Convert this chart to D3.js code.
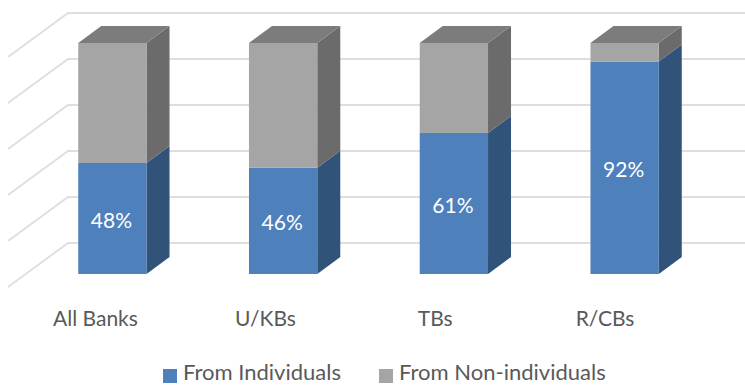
<!DOCTYPE html>
<html>
<head>
<meta charset="utf-8">
<script src="https://cdnjs.cloudflare.com/ajax/libs/d3/7.8.5/d3.min.js"></script>
<style>
html,body{margin:0;padding:0;background:#fff}
svg{display:block}
text{font-family:Lato,"Open Sans",sans-serif}
</style>
</head>
<body>
<svg id="chart" width="745" height="385"></svg>
<script>
const categories = ["All Banks", "U/KBs", "TBs", "R/CBs"];
const fromIndividuals = [48, 46, 61, 92];
const seriesNames = ["From Individuals", "From Non-individuals"];
const gridTicks = [0, 20, 40, 60, 80, 100];

const blue = {front: "#4e80bc", side: "#325379"};
const gray = {front: "#a5a5a5", side: "#6b6b6b", top: "#7c7c7c"};
const textColor = "#595959";

const svg = d3.select("#chart");

// Oblique projection: bars are extruded up and to the right.
const depthX = 23, depthY = -17;

const x = d3.scaleBand().domain(categories).range([27, 710]).paddingInner(0.6).paddingOuter(0.3);
const y = d3.scaleLinear().domain([0, 100]).range([274, 43]);
const wallY = d3.scaleLinear().domain([0, 100]).range([243, 13]);

// Category labels sit on the front floor edge, left of the bar centres.
const labelX = d3.scalePoint().domain(categories).range([95.5, 605]);

// Gridlines run along the back wall and fold down the side wall.
const grid = svg.append("g").attr("fill", "none").attr("stroke", "#dedede").attr("stroke-width", 1.8);
gridTicks.forEach(t => {
  grid.append("path").attr("d", d3.line()([
    [8, wallY(t) + 44], [68, wallY(t)], [745, wallY(t)]
  ]));
});

const poly = (g, pts, fill) => g.append("polygon")
  .attr("points", pts.map(p => p.join(",")).join(" "))
  .attr("fill", fill);

categories.forEach((c, i) => {
  const g = svg.append("g");
  const l = x(c), r = l + x.bandwidth();
  const y0 = y(0), ym = y(fromIndividuals[i]), y1 = y(100);

  poly(g, [[r, y0], [r + depthX, y0 + depthY], [r + depthX, ym + depthY], [r, ym]], blue.side);
  poly(g, [[r, ym], [r + depthX, ym + depthY], [r + depthX, y1 + depthY], [r, y1]], gray.side);
  poly(g, [[l, y1], [l + depthX, y1 + depthY], [r + depthX, y1 + depthY], [r, y1]], gray.top);
  poly(g, [[l, y0], [r, y0], [r, ym], [l, ym]], blue.front);
  poly(g, [[l, ym], [r, ym], [r, y1], [l, y1]], gray.front);

  g.append("text")
    .attr("x", (l + r) / 2 - 1)
    .attr("y", (y0 + ym) / 2 + 9)
    .attr("text-anchor", "middle")
    .attr("font-size", 21)
    .attr("fill", "#fff")
    .text(fromIndividuals[i] + "%");

  svg.append("text")
    .attr("x", labelX(c))
    .attr("y", 326)
    .attr("text-anchor", "middle")
    .attr("font-size", 21)
    .attr("fill", textColor)
    .text(c);
});

// Legend
const legendX = [163, 379];
seriesNames.forEach((name, i) => {
  svg.append("rect")
    .attr("x", legendX[i]).attr("y", 369)
    .attr("width", 14).attr("height", 14)
    .attr("fill", i === 0 ? blue.front : gray.front);
  svg.append("text")
    .attr("x", legendX[i] + 20).attr("y", 380)
    .attr("font-size", 22)
    .attr("fill", textColor)
    .text(name);
});
</script>
</body>
</html>
